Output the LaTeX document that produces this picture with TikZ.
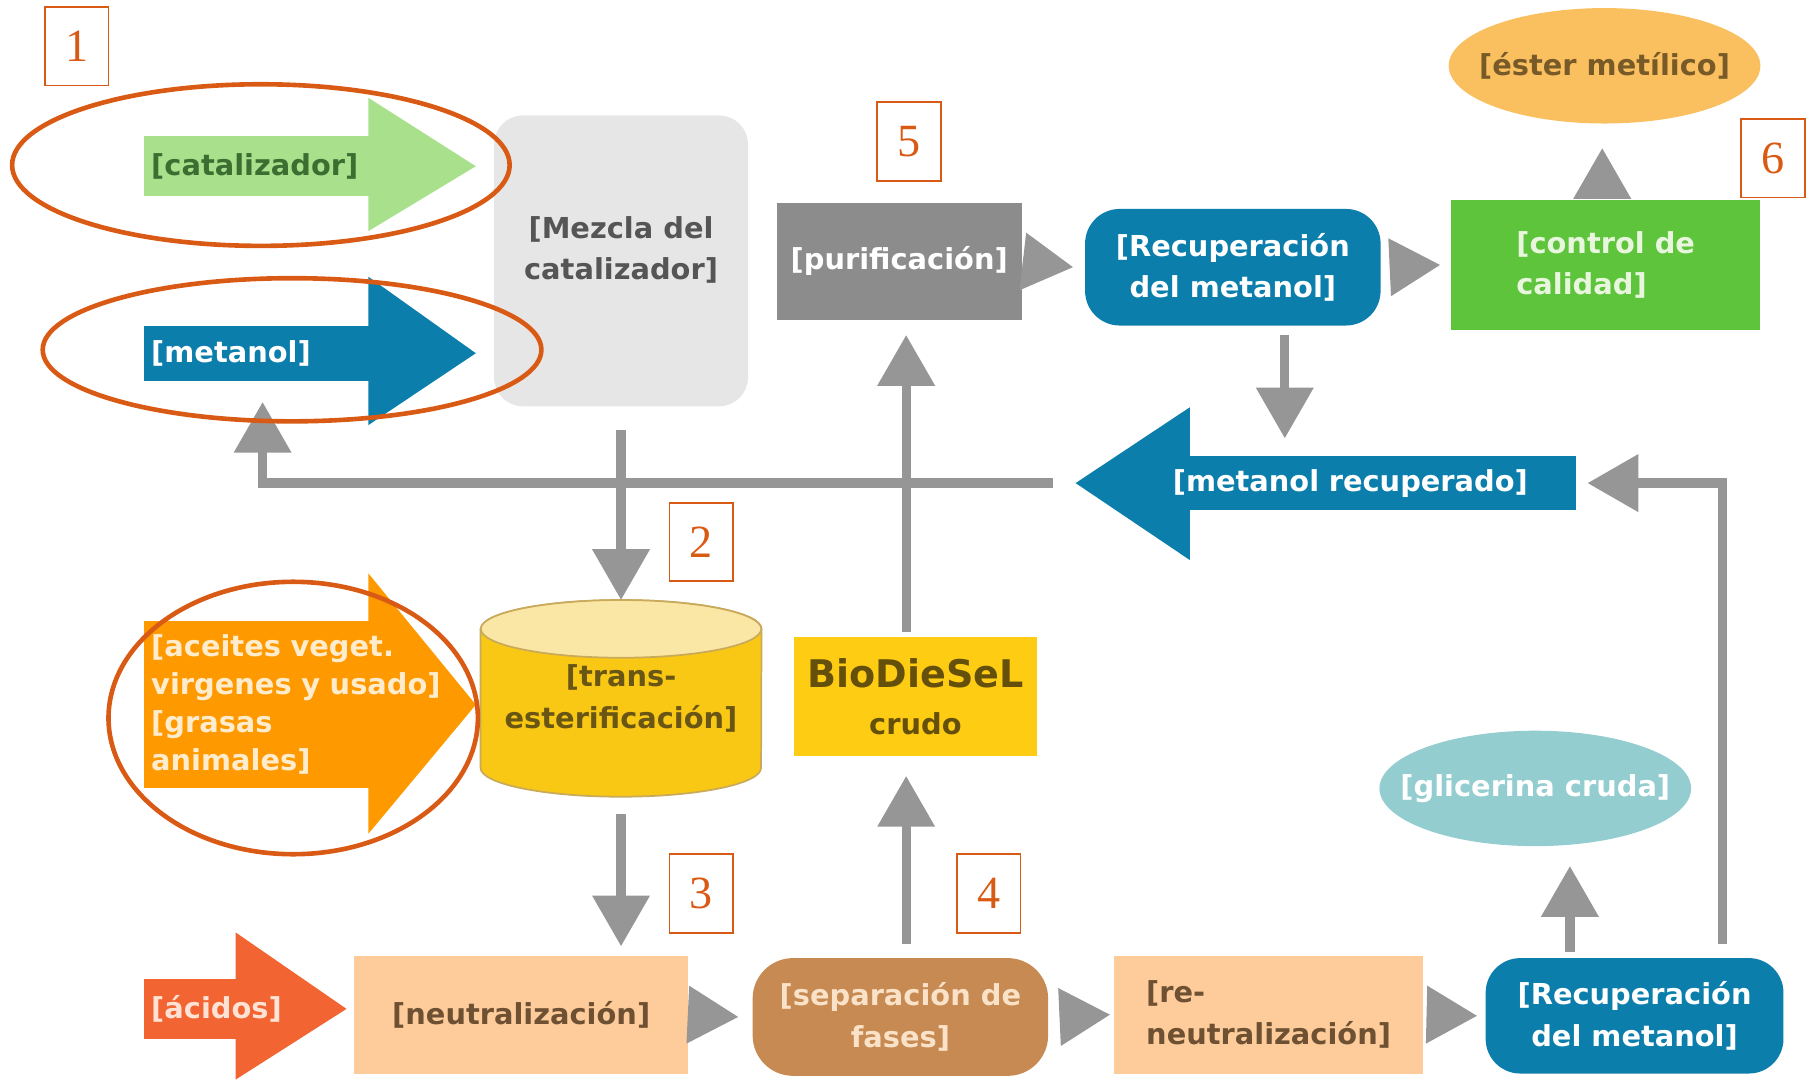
\documentclass[tikz,border=0pt]{standalone}
\usepackage{fontspec}
\setmainfont{DejaVu Sans}
\newfontfamily\numfont{Liberation Serif}
\usepackage{tikz}
\usetikzlibrary{shapes.geometric, arrows.meta, positioning, calc, backgrounds}

\definecolor{catgreen}{RGB}{168,224,140}
\definecolor{catgreentext}{RGB}{60,110,50}
\definecolor{metblue}{RGB}{12,126,172}
\definecolor{mixgray}{RGB}{230,230,230}
\definecolor{mixtext}{RGB}{85,85,85}
\definecolor{purgray}{RGB}{140,140,140}
\definecolor{qcgreen}{RGB}{94,196,60}
\definecolor{qctext}{RGB}{232,246,222}
\definecolor{esterfill}{RGB}{250,192,96}
\definecolor{estertext}{RGB}{120,90,40}
\definecolor{glifill}{RGB}{148,205,208}
\definecolor{cylfill}{RGB}{249,200,20}
\definecolor{cyltop}{RGB}{251,231,165}
\definecolor{cyledge}{RGB}{200,170,90}
\definecolor{cyltext}{RGB}{105,85,20}
\definecolor{biofill}{RGB}{255,204,20}
\definecolor{biotext}{RGB}{100,80,10}
\definecolor{oilorange}{RGB}{255,153,0}
\definecolor{oiltext}{RGB}{255,236,205}
\definecolor{acidred}{RGB}{242,100,50}
\definecolor{acidtext}{RGB}{255,226,212}
\definecolor{peach}{RGB}{253,204,154}
\definecolor{peachtext}{RGB}{110,80,50}
\definecolor{sepbrown}{RGB}{198,138,82}
\definecolor{septext}{RGB}{250,226,200}
\definecolor{conngray}{RGB}{150,150,150}
\definecolor{markorange}{RGB}{217,90,20}

\newcommand{\boxfont}{\fontsize{25}{36}\selectfont\bfseries}
\newcommand{\oilfont}{\fontsize{25}{33}\selectfont\bfseries}

\begin{document}
\begin{tikzpicture}[x=1pt, y=-1pt,
		% Define styles
		stepbox/.style={
			rectangle,
			font=\boxfont,
			align=center,
			inner sep=0pt
		},
		flowarrow/.style={
			rectangle,
			font=\boxfont,
			align=left,
			inner xsep=6pt,
			inner ysep=0pt
		},
		numbox/.style={
			rectangle,
			draw=markorange,
			line width=1.5pt,
			minimum width=55pt,
			minimum height=68pt,
			inner sep=0pt,
			text=markorange,
			font=\numfont\fontsize{40}{40}\selectfont
		},
		ring/.style={ellipse, draw=markorange, line width=4pt, inner sep=0pt},
		% Define arrow style
		conn/.style={draw=conngray, line width=8pt, -{Triangle[width=48pt,length=44pt]}}
		]
		
		\useasboundingbox (0,0) rectangle (1568,936);
		
		% ----- Inputs (block arrows) -----
		\node[flowarrow, fill=catgreen, text=catgreentext, text width=183pt, minimum height=52pt] (cat) at (222.5,144) {[catalizador]};
		\node[flowarrow, fill=metblue, text=white, text width=183pt, minimum height=48pt] (metanol) at (222.5,306) {[metanol]};
		\node[flowarrow, fill=oilorange, text=oiltext, text width=183pt, minimum height=145pt, font=\oilfont] (oil) at (222.5,610.5)
		{\mbox{[aceites veget.}\\\mbox{virgenes y usado]}\\{}[grasas\\animales]};
		\node[flowarrow, fill=acidred, text=acidtext, text width=68pt, minimum height=52pt] (acid) at (165,874) {[ácidos]};
		\node[flowarrow, fill=metblue, text=white, text width=335pt, inner xsep=0pt, minimum height=47pt] (metrec) at (1197.5,418.5) {\hspace*{-14pt}[metanol recuperado]};
		
		% ----- Process steps -----
		\node[stepbox, fill=mixgray, text=mixtext, rounded corners=25pt, minimum width=220pt, minimum height=252pt] (mix) at (538,226) {[Mezcla del\\catalizador]\\[-14pt]};
		\node[stepbox, text=cyltext, minimum width=243pt, minimum height=170pt] (trans) at (538,605) {[trans-\\esterificación]};
		\node[stepbox, fill=biofill, text=biotext, minimum width=210pt, minimum height=103pt] (bio) at (793,603.5) {{\fontsize{33}{40}\selectfont BioDieSeL}\\[4pt]crudo};
		\node[stepbox, fill=peach, text=peachtext, minimum width=289pt, minimum height=102pt] (neut) at (451.5,879) {[neutralización]};
		\node[stepbox, fill=sepbrown, text=septext, rounded corners=35pt, minimum width=256pt, minimum height=102pt] (sep) at (780,881) {[separación de\\fases]};
		\node[stepbox, fill=peach, text=peachtext, align=left, minimum width=268pt, minimum height=102pt] (reneut) at (1099,879) {[re-\\neutralización]};
		\node[stepbox, fill=metblue, text=white, rounded corners=30pt, minimum width=258pt, minimum height=100pt] (recov2) at (1416,880) {[Recuperación\\del metanol]};
		\node[stepbox, fill=purgray, text=white, minimum width=212pt, minimum height=101pt] (purif) at (779,226.5) {[purificación]};
		\node[stepbox, fill=metblue, text=white, rounded corners=30pt, minimum width=256pt, minimum height=101pt] (recov1) at (1068,231.5) {[Recuperación\\del metanol]};
		\node[stepbox, fill=qcgreen, text=qctext, align=left, minimum width=268pt, minimum height=113pt] (qc) at (1391,229.5) {[control de\\calidad]};
		
		% ----- Products -----
		\node[stepbox, text=estertext, minimum width=270pt, minimum height=100pt] (ester) at (1390,57) {[éster metílico]};
		\node[stepbox, text=white, minimum width=270pt, minimum height=100pt] (gly) at (1330,683) {[glicerina cruda]};
		
		% ----- Arrow heads, cylinder and ovals behind the text -----
		\begin{scope}[on background layer]
			\fill[catgreen] ([xshift=-1pt,yshift=33pt]cat.north east) -- ([xshift=92pt]cat.east) -- ([xshift=-1pt,yshift=-30pt]cat.south east) -- cycle;
			\fill[metblue] ([xshift=-1pt,yshift=42pt]metanol.north east) -- ([xshift=92pt]metanol.east) -- ([xshift=-1pt,yshift=-38pt]metanol.south east) -- cycle;
			\fill[oilorange] ([xshift=-1pt,yshift=41pt]oil.north east) -- ([xshift=92pt]oil.east) -- ([xshift=-1pt,yshift=-39pt]oil.south east) -- cycle;
			\fill[acidred] ([xshift=-1pt,yshift=40pt]acid.north east) -- ([xshift=95pt]acid.east) -- ([xshift=-1pt,yshift=-35pt]acid.south east) -- cycle;
			\fill[metblue] ([xshift=1pt,yshift=42pt]metrec.north west) -- ([xshift=-98pt]metrec.west) -- ([xshift=1pt,yshift=-43pt]metrec.south west) -- cycle;
			
			\filldraw[fill=cylfill, draw=cyledge, line width=1.5pt] ([yshift=-25pt]trans.north west) -- ([yshift=25pt]trans.south west)
			arc[start angle=180, end angle=360, x radius=121.5pt, y radius=25pt]
			-- ([yshift=-25pt]trans.north east)
			arc[start angle=0, end angle=180, x radius=121.5pt, y radius=25pt] -- cycle;
			\filldraw[fill=cyltop, draw=cyledge, line width=1.5pt] ([yshift=-25pt]trans.north) ellipse [x radius=121.5pt, y radius=25pt];
			
			\fill[esterfill] (ester) ellipse [x radius=135pt, y radius=50pt];
			\fill[glifill] (gly) ellipse [x radius=135pt, y radius=50pt];
		\end{scope}
		
		% ----- Arrows to connect the nodes -----
		\coordinate (colA) at (785,0);
		\coordinate (colB) at (1113,0);
		\coordinate (colC) at (1360,0);
		\coordinate (colD) at (1492,0);
		\coordinate (colE) at (1388,0);
		\coordinate (metrec-tip) at ($(metrec.west)+(-98,0)$);
		
		\draw[conn] ($(mix.south)+(0,20)$) -- (mix.south |- trans.north);
		\draw[conn] ($(trans.south)+(0,15)$) -- ($(trans.south |- neut.north)+(0,-8)$);
		\draw[conn] (neut.east) -- ($(sep.west)+(-12,0)$);
		\draw[conn] ($(colA |- sep.north)+(0,-12)$) -- ($(colA |- bio.south)+(0,17)$);
		\draw[conn] ($(colA |- bio.north)+(0,-4)$) -- ($(colA |- purif.south)+(0,13)$);
		\draw[conn] ($(purif.east)+(1,0)$) -- ($(recov1.west)+(-10,0)$);
		\draw[conn] ($(recov1.east)+(8,0)$) -- ($(qc.west)+(-9,0)$);
		\draw[conn] (colE |- qc.north) -- ($(colE |- ester.south)+(0,21)$);
		\draw[conn] ($(colB |- recov1.south)+(0,8)$) -- ($(colB |- metrec.north)+(0,-15)$);
		\draw[conn] ($(metrec-tip)+(-20,0)$) -| ($(metanol.south)+(5,18)$);
		\draw[conn] ($(sep.east)+(10,0)$) -- ($(reneut.west)+(-3,0)$);
		\draw[conn] ($(reneut.east)+(3,0)$) -- ($(recov2.west)+(-7,0)$);
		\draw[conn] ($(colC |- recov2.north)+(0,-5)$) -- ($(colC |- gly.south)+(0,17)$);
		\draw[conn] ($(colD |- recov2.north)+(0,-12)$) |- ($(metrec.east)+(10,0)$);
		
		% ----- Step numbers -----
		\node[numbox] (n1) at (66.5,40) {1};
		\node[numbox] (n2) at (607.5,469.5) {2};
		\node[numbox] (n3) at (607.5,774) {3};
		\node[numbox] (n4) at (856.5,774) {4};
		\node[numbox] (n5) at (787.5,122.5) {5};
		\node[numbox] (n6) at (1536,137) {6};
		
		% ----- Marked inputs -----
		\node[ring, minimum width=431pt, minimum height=140pt] (ring-cat) at (226,143) {};
		\node[ring, minimum width=432pt, minimum height=124pt] (ring-met) at (253,303) {};
		\node[ring, minimum width=320pt, minimum height=236pt] (ring-oil) at (254,622) {};
		
	\end{tikzpicture}
\end{document}
